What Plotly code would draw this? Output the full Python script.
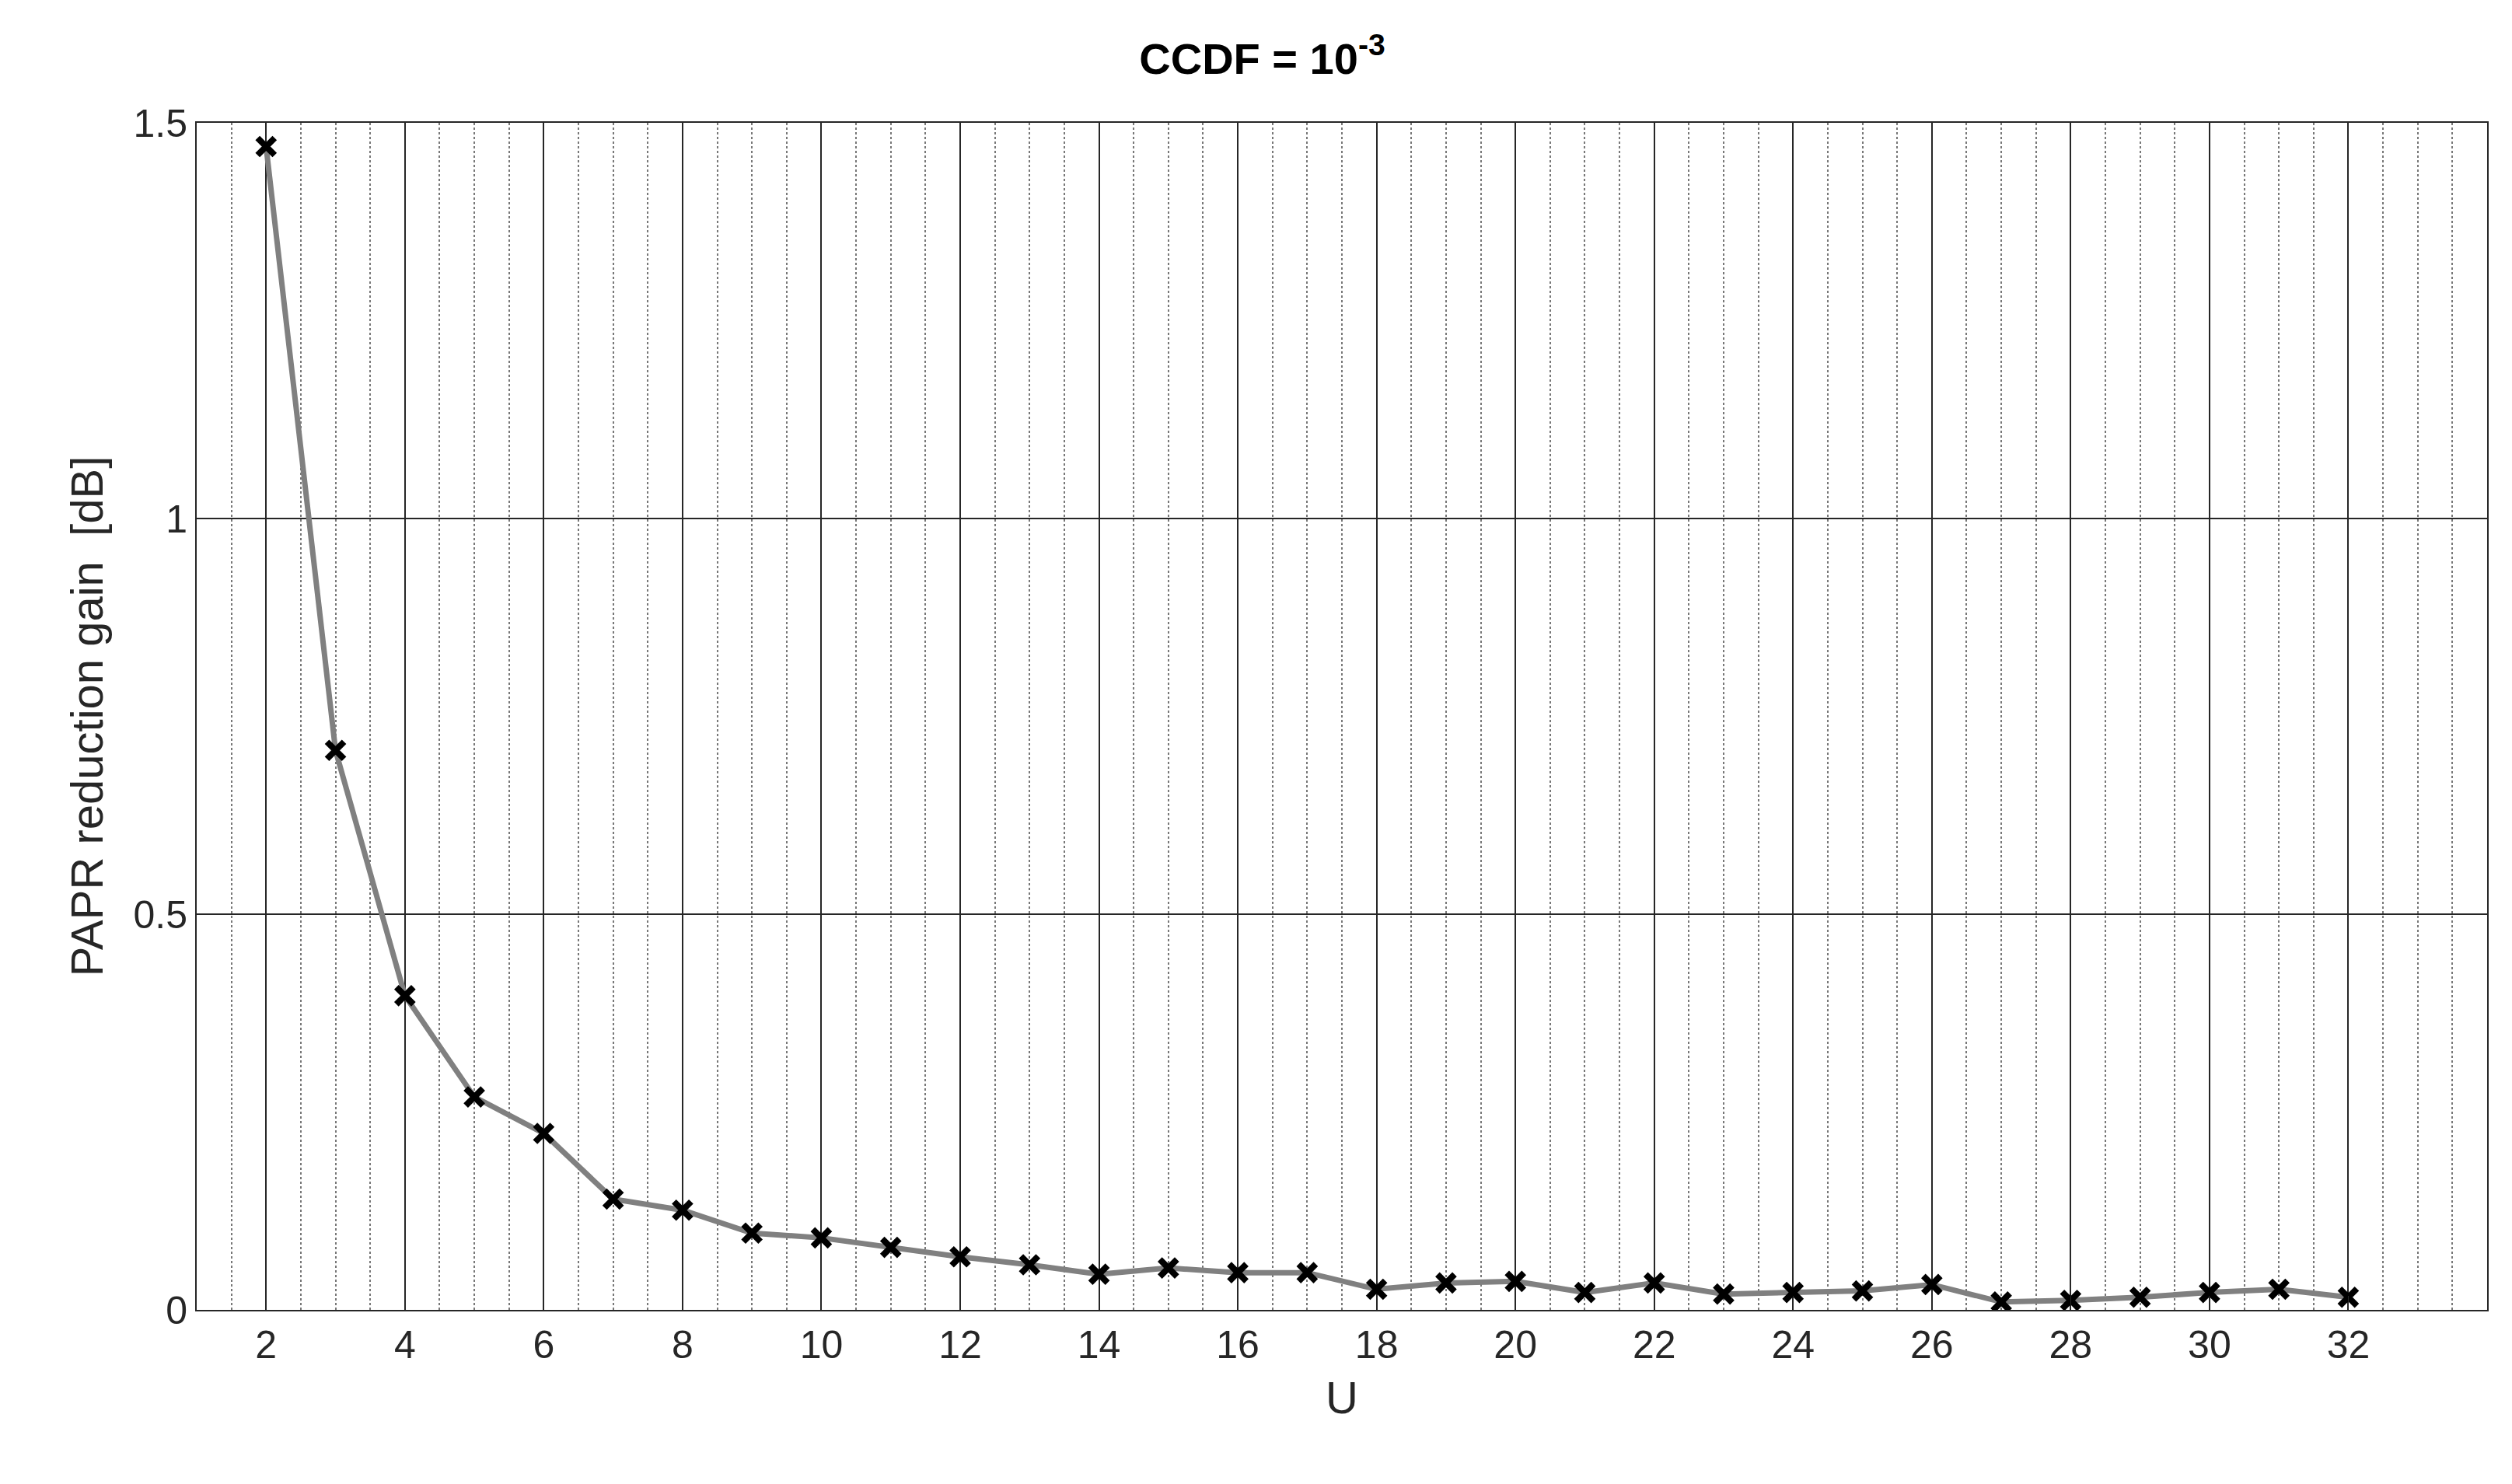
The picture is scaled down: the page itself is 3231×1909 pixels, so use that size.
import plotly.graph_objects as go

U = list(range(2, 33))
gain = [1.47, 0.707, 0.397, 0.269, 0.223, 0.140, 0.126, 0.097, 0.091, 0.079,
        0.067, 0.057, 0.045, 0.053, 0.047, 0.047, 0.026, 0.034, 0.036, 0.022,
        0.034, 0.020, 0.022, 0.024, 0.032, 0.010, 0.012, 0.016, 0.022, 0.026, 0.016]
xticks = list(range(2, 33, 2))
xminor = [v / 2 for v in range(3, 68)]
yticks = [0, 0.5, 1, 1.5]

fig = go.Figure(go.Scatter(
    x=U, y=gain, mode="lines+markers",
    line=dict(color="#808080", width=7),
    marker=dict(symbol="x-thin", size=22, color="black", line=dict(width=8, color="black")),
))
fig.update_layout(
    width=3231, height=1909, plot_bgcolor="white", paper_bgcolor="white",
    margin=dict(l=245, r=40, t=150, b=232),
    font=dict(family="Liberation Sans, Arial", color="#262626", size=50),
    title=dict(text="<b>CCDF = 10<sup>-3</sup></b>", x=0.5, xanchor="center", y=0.975,
               font=dict(size=56, color="black")),
    showlegend=False,
)
fig.update_xaxes(range=[1, 34], tickvals=xticks, showline=True, mirror=True,
                 linecolor="#262626", linewidth=2, ticks="inside", ticklen=18,
                 tickcolor="#262626", gridcolor="#262626", gridwidth=1.5,
                 minor=dict(tickvals=xminor, showgrid=True, gridcolor="#777777",
                            griddash="dot", gridwidth=1.5, ticks=""),
                 zeroline=False, title=dict(text="U", font=dict(size=58), standoff=20))
fig.update_yaxes(range=[0, 1.5], tickvals=yticks, ticktext=["0", "0.5", "1", "1.5"],
                 showline=True, mirror=True, linecolor="#262626", linewidth=2,
                 ticks="inside", ticklen=18, tickcolor="#262626",
                 gridcolor="#262626", gridwidth=1.5, zeroline=False,
                 title=dict(text="PAPR reduction gain  [dB]", font=dict(size=58), standoff=20))
fig.write_html("out.html")
